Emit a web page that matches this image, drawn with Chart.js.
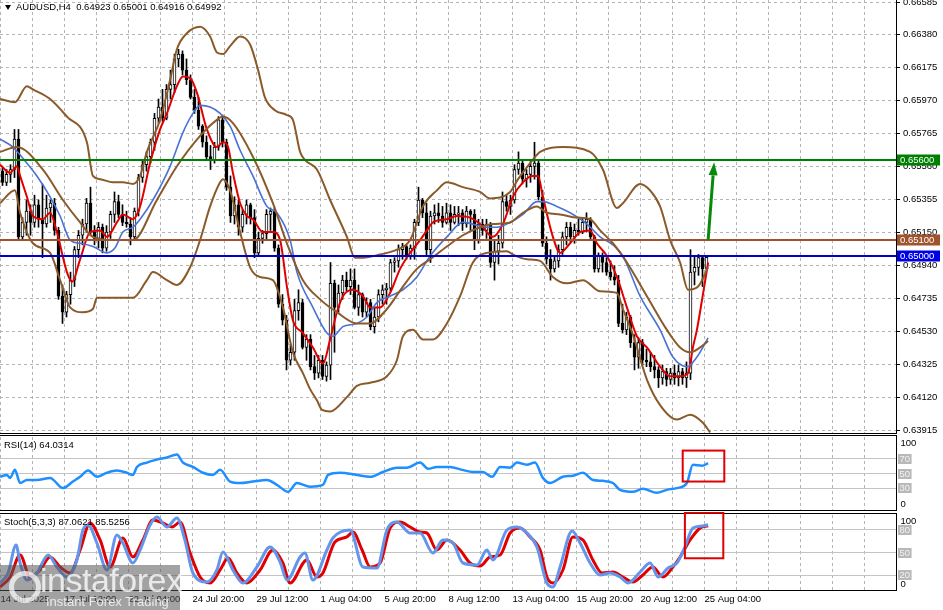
<!DOCTYPE html>
<html>
<head>
<meta charset="utf-8">
<script src="https://cdn.jsdelivr.net/npm/chart.js@4.4.0/dist/chart.umd.min.js"></script>
<style>
html, body { margin: 0; padding: 0; background: #fff; }
#wrap { position: relative; width: 943px; height: 610px; overflow: hidden; background: #fff;
  font-family: 'Liberation Sans', Arial, sans-serif; }
#wrap canvas { position: absolute; left: 0; }
.lbl { position: absolute; left: 4px; font-size: 9.5px; line-height: 11px; color: #000; white-space: pre; }
#tri { position: absolute; left: 5px; top: 5px; width: 0; height: 0;
  border-left: 3.5px solid transparent; border-right: 3.5px solid transparent; border-top: 5px solid #000; }
#wm { position: absolute; left: 0; top: 565px; width: 180px; height: 45px; background: rgba(85,85,85,0.55); }
#wm .ring { position: absolute; left: 9px; top: 6px; width: 22px; height: 22px; border: 5px solid rgba(255,255,255,0.7); border-radius: 50%; }
#wm .big { position: absolute; left: 40px; top: -4px; font-size: 34px; color: rgba(255,255,255,0.78); letter-spacing: -0.5px; }
#wm .small { position: absolute; left: 46px; top: 29px; font-size: 13px; color: rgba(255,255,255,0.78); }
</style>
</head>
<body>
<div id="wrap">
  <canvas id="main" width="943" height="436" style="top:0"></canvas>
  <canvas id="rsi" width="943" height="78" style="top:434px"></canvas>
  <canvas id="stoch" width="943" height="98" style="top:512px"></canvas>
  <div id="tri"></div>
  <div class="lbl" style="left:16px;top:1px">AUDUSD,H4  0.64923 0.65001 0.64916 0.64992</div>
  <div class="lbl" style="top:439px">RSI(14) 64.0314</div>
  <div class="lbl" style="top:516px">Stoch(5,3,3) 87.0621 85.5256</div>
  <div id="wm"><div class="ring"></div><div class="big">instaforex</div><div class="small">Instant Forex Trading</div></div>
</div>
<script>
// ---- data (bar index 0 = leftmost candle, H4 bars) ----
const priceTicks = [0.66585, 0.66380, 0.66175, 0.65970, 0.65765, 0.65560, 0.65355, 0.65150,
  0.64940, 0.64735, 0.64530, 0.64325, 0.64120, 0.63915];
const timeLabels = ['14 Jul 2025', '17 Jul 12:00', '22 Jul 04:00', '24 Jul 20:00', '29 Jul 12:00', '1 Aug 04:00',
  '5 Aug 20:00', '8 Aug 12:00', '13 Aug 04:00', '15 Aug 20:00', '20 Aug 12:00', '25 Aug 04:00'];

const opens = [
  0.6553,0.6546,0.6551,0.6554,0.6573,0.6512,0.6521,0.6528,0.6521,0.6532,
  0.6523,0.6520,0.6530,0.6533,0.6516,0.6475,0.6465,0.6476,0.6485,0.6504,
  0.6513,0.6520,0.6533,0.6515,0.6511,0.6518,0.6505,0.6515,0.6526,0.6534,
  0.6526,0.6521,0.6520,0.6512,0.6528,0.6549,0.6557,0.6562,0.6571,0.6586,
  0.6593,0.6586,0.6604,0.6607,0.6623,0.6626,0.6616,0.6610,0.6599,0.6591,
  0.6581,0.6571,0.6562,0.6560,0.6568,0.6585,0.6571,0.6543,0.6525,0.6532,
  0.6518,0.6526,0.6532,0.6524,0.6502,0.6511,0.6514,0.6526,0.6528,0.6505,
  0.6470,0.6460,0.6435,0.6440,0.6466,0.6471,0.6443,0.6448,0.6431,0.6427,
  0.6435,0.6425,0.6432,0.6483,0.6468,0.6477,0.6485,0.6481,0.6485,0.6468,
  0.6476,0.6465,0.6471,0.6456,0.6462,0.6476,0.6479,0.6480,0.6496,0.6497,
  0.6504,0.6506,0.6500,0.6505,0.6521,0.6535,0.6527,0.6504,0.6525,0.6527,
  0.6525,0.6521,0.6527,0.6521,0.6526,0.6527,0.6520,0.6528,0.6526,0.6510,
  0.6520,0.6516,0.6520,0.6496,0.6503,0.6508,0.6534,0.6531,0.6535,0.6554,
  0.6558,0.6548,0.6551,0.6556,0.6558,0.6537,0.6508,0.6498,0.6492,0.6497,
  0.6504,0.6512,0.6518,0.6512,0.6516,0.6515,0.6521,0.6523,0.6512,0.6492,
  0.6500,0.6496,0.6490,0.6487,0.6485,0.6458,0.6454,0.6462,0.6446,0.6437,
  0.6446,0.6435,0.6434,0.6431,0.6429,0.6424,0.6428,0.6423,0.6427,0.6424,
  0.6428,0.6424,0.6427,0.6490,0.6493,0.6499,0.64923];
const highs = [
  0.6555,0.6554,0.6557,0.6579,0.6579,0.6524,0.6535,0.6532,0.6538,0.6535,
  0.6545,0.6538,0.6535,0.6536,0.6518,0.6482,0.6478,0.6490,0.6506,0.6516,
  0.6523,0.6536,0.6543,0.6519,0.6521,0.6520,0.6519,0.6528,0.6540,0.6538,
  0.6532,0.6528,0.6524,0.6530,0.6551,0.6560,0.6565,0.6573,0.6589,0.6598,
  0.6604,0.6607,0.6616,0.6626,0.6629,0.6628,0.6623,0.6613,0.6604,0.6599,
  0.6582,0.6575,0.6569,0.6571,0.6587,0.6588,0.6573,0.6550,0.6537,0.6535,
  0.6529,0.6535,0.6533,0.6529,0.6515,0.6516,0.6529,0.6530,0.6530,0.6507,
  0.6476,0.6463,0.6445,0.6473,0.6479,0.6473,0.6451,0.6451,0.6438,0.6438,
  0.6438,0.6434,0.6496,0.6485,0.6482,0.6488,0.6490,0.6492,0.6492,0.6482,
  0.6477,0.6474,0.6473,0.6468,0.6479,0.6482,0.6483,0.6498,0.6499,0.6507,
  0.6508,0.6507,0.6507,0.6523,0.6543,0.6536,0.6533,0.6528,0.6532,0.6533,
  0.6531,0.6533,0.6532,0.6531,0.6531,0.6529,0.6531,0.6529,0.6529,0.6523,
  0.6523,0.6523,0.6521,0.6510,0.6513,0.6540,0.6538,0.6538,0.6557,0.6565,
  0.6560,0.6554,0.6559,0.6571,0.6560,0.6541,0.6512,0.6504,0.6500,0.6507,
  0.6515,0.6521,0.6521,0.6520,0.6523,0.6524,0.6527,0.6524,0.6513,0.6502,
  0.6502,0.6499,0.6497,0.6494,0.6488,0.6470,0.6465,0.6463,0.6451,0.6449,
  0.6448,0.6442,0.6440,0.6438,0.6431,0.6432,0.6430,0.6430,0.6432,0.6432,
  0.6430,0.6434,0.6504,0.6500,0.6501,0.6500,0.65001];
const lows = [
  0.6544,0.6544,0.6546,0.6549,0.6510,0.6510,0.6513,0.6513,0.6518,0.6518,
  0.6499,0.6518,0.6521,0.6513,0.6473,0.6458,0.6462,0.6470,0.6481,0.6499,
  0.6507,0.6515,0.6513,0.6507,0.6505,0.6502,0.6503,0.6511,0.6521,0.6524,
  0.6519,0.6518,0.6507,0.6510,0.6525,0.6546,0.6553,0.6558,0.6566,0.6583,
  0.6584,0.6585,0.6598,0.6602,0.6618,0.6613,0.6607,0.6598,0.6589,0.6579,
  0.6568,0.6560,0.6554,0.6558,0.6566,0.6568,0.6541,0.6521,0.6520,0.6513,
  0.6515,0.6520,0.6520,0.6499,0.6500,0.6508,0.6510,0.6516,0.6503,0.6468,
  0.6457,0.6429,0.6432,0.6435,0.6460,0.6442,0.6435,0.6429,0.6423,0.6424,
  0.6423,0.6422,0.6423,0.6440,0.6465,0.6473,0.6478,0.6476,0.6467,0.6463,
  0.6462,0.6462,0.6454,0.6452,0.6459,0.6470,0.6470,0.6478,0.6490,0.6493,
  0.6498,0.6498,0.6498,0.6498,0.6519,0.6524,0.6500,0.6496,0.6520,0.6521,
  0.6518,0.6520,0.6516,0.6520,0.6519,0.6516,0.6518,0.6516,0.6504,0.6508,
  0.6513,0.6511,0.6493,0.6485,0.6495,0.6505,0.6528,0.6526,0.6533,0.6551,
  0.6545,0.6543,0.6546,0.6548,0.6535,0.6506,0.6495,0.6485,0.6490,0.6493,
  0.6501,0.6507,0.6509,0.6508,0.6513,0.6514,0.6515,0.6510,0.6490,0.6490,
  0.6490,0.6488,0.6485,0.6482,0.6456,0.6452,0.6451,0.6443,0.6429,0.6430,
  0.6432,0.6431,0.6428,0.6424,0.6418,0.6420,0.6419,0.6420,0.6420,0.6419,
  0.6420,0.6418,0.6423,0.6482,0.6488,0.6481,0.64916];
const closes = [
  0.6546,0.6551,0.6554,0.6573,0.6512,0.6521,0.6528,0.6521,0.6532,0.6523,
  0.6520,0.6530,0.6533,0.6516,0.6475,0.6465,0.6476,0.6485,0.6504,0.6513,
  0.6520,0.6533,0.6515,0.6511,0.6518,0.6505,0.6515,0.6526,0.6534,0.6526,
  0.6521,0.6520,0.6512,0.6528,0.6549,0.6557,0.6562,0.6571,0.6586,0.6593,
  0.6586,0.6604,0.6607,0.6623,0.6626,0.6616,0.6610,0.6599,0.6591,0.6581,
  0.6571,0.6562,0.6560,0.6568,0.6585,0.6571,0.6543,0.6525,0.6532,0.6518,
  0.6526,0.6532,0.6524,0.6502,0.6511,0.6514,0.6526,0.6528,0.6505,0.6470,
  0.6460,0.6435,0.6440,0.6466,0.6471,0.6443,0.6448,0.6431,0.6427,0.6435,
  0.6425,0.6432,0.6483,0.6468,0.6477,0.6485,0.6481,0.6485,0.6468,0.6476,
  0.6465,0.6471,0.6456,0.6462,0.6476,0.6479,0.6480,0.6496,0.6497,0.6504,
  0.6506,0.6500,0.6505,0.6521,0.6535,0.6527,0.6504,0.6525,0.6527,0.6525,
  0.6521,0.6527,0.6521,0.6526,0.6527,0.6520,0.6528,0.6526,0.6510,0.6520,
  0.6516,0.6520,0.6496,0.6503,0.6508,0.6534,0.6531,0.6535,0.6554,0.6558,
  0.6548,0.6551,0.6556,0.6558,0.6537,0.6508,0.6498,0.6492,0.6497,0.6504,
  0.6512,0.6518,0.6512,0.6516,0.6515,0.6521,0.6523,0.6512,0.6492,0.6500,
  0.6496,0.6490,0.6487,0.6485,0.6458,0.6454,0.6462,0.6446,0.6437,0.6446,
  0.6435,0.6434,0.6431,0.6429,0.6424,0.6428,0.6423,0.6427,0.6424,0.6428,
  0.6424,0.6427,0.6490,0.6493,0.6499,0.6492,0.64992];

// Bollinger bands and moving averages, [bar, price] vertices
const bbUpper = [[-0.6,0.6598],[3.1,0.6596],[6.1,0.6606],[7.6,0.6604],[11.9,0.6598],[16.1,0.6587],[21.1,0.6571],
  [22.6,0.6550],[24.4,0.6548],[27.6,0.6546],[30.1,0.6546],[32.6,0.6545],[34.4,0.6550],[36.1,0.6565],[39.4,0.6585],
  [41.9,0.6610],[43.6,0.6629],[46.1,0.6639],[49.4,0.6643],[51.9,0.6637],[53.6,0.6627],[55.1,0.6626],[56.9,0.6631],
  [59.4,0.6637],[61.9,0.6632],[63.9,0.6616],[65.6,0.6599],[68.1,0.6591],[71.1,0.6588],[72.6,0.6585],[74.4,0.6565],
  [75.6,0.6560],[78.6,0.6554],[81.9,0.6535],[86.1,0.6512],[88.1,0.6499],[90.1,0.6499],[94.4,0.6501],[98.6,0.6504],
  [101.9,0.6510],[105.1,0.6531],[108.6,0.6541],[111.1,0.6546],[115.1,0.6543],[119.4,0.6540],[121.9,0.6536],
  [126.9,0.6540],[128.9,0.6548],[131.9,0.6558],[134.4,0.6565],[140.1,0.6568],[146.9,0.6565],[150.1,0.6554],
  [153.6,0.6530],[155.1,0.6533],[159.4,0.6545],[161.9,0.6541],[164.4,0.6531],[166.9,0.6510],[169.4,0.6496],
  [171.4,0.6479],[173.9,0.6481],[176.4,0.6493]];
const bbMiddle = [[-0.6,0.6565],[3.6,0.6568],[10.1,0.6554],[15.1,0.6535],[19.4,0.6521],[22.6,0.6512],[27.6,0.6510],
  [32.6,0.6510],[38.6,0.6535],[43.6,0.6556],[49.4,0.6575],[53.6,0.6585],[55.1,0.6587],[57.6,0.6583],[62.6,0.6562],
  [67.6,0.6533],[71.1,0.6508],[75.1,0.6485],[79.4,0.6473],[83.6,0.6465],[88.6,0.6458],[91.9,0.6458],[96.1,0.6467],
  [100.1,0.6481],[103.6,0.6492],[106.9,0.6498],[111.1,0.6506],[115.1,0.6513],[119.4,0.6518],[122.6,0.6520],
  [126.9,0.6521],[130.1,0.6527],[133.6,0.6531],[136.1,0.6527],[139.4,0.6526],[143.6,0.6524],[146.9,0.6523],
  [149.4,0.6516],[152.6,0.6508],[156.1,0.6496],[161.1,0.6475],[166.1,0.6454],[169.4,0.6443],[171.9,0.6440],
  [174.4,0.6443],[176.4,0.6447]];
const bbLower = [[-0.6,0.6533],[3.1,0.6541],[4.4,0.6527],[7.6,0.6508],[11.9,0.6502],[14.4,0.6485],[16.9,0.6468],
  [20.1,0.6465],[22.6,0.6467],[23.6,0.6474],[32.6,0.6474],[36.1,0.6485],[37.6,0.6490],[41.1,0.6485],[43.6,0.6482],
  [46.9,0.6493],[49.4,0.6510],[51.9,0.6531],[54.4,0.6546],[55.1,0.6548],[56.9,0.6541],[59.4,0.6515],[61.9,0.6493],
  [64.4,0.6487],[67.6,0.6485],[70.1,0.6468],[72.6,0.6440],[75.1,0.6427],[76.9,0.6417],[78.6,0.6410],[79.9,0.6404],
  [81.9,0.6403],[86.1,0.6412],[88.6,0.6419],[91.9,0.6421],[96.1,0.6425],[98.6,0.6435],[100.1,0.6450],[102.6,0.6454],
  [105.1,0.6448],[107.6,0.6448],[111.1,0.6458],[114.4,0.6475],[117.6,0.6496],[121.1,0.6502],[126.1,0.6503],
  [127.6,0.6501],[131.1,0.6498],[134.4,0.6497],[137.6,0.6487],[141.1,0.6483],[145.1,0.6485],[149.4,0.6478],
  [153.6,0.6477],[155.1,0.6467],[157.6,0.6451],[161.1,0.6423],[164.4,0.6407],[168.6,0.6398],[171.9,0.6401],
  [175.1,0.6396],[176.9,0.6390]];
const maFast = [[-0.6,0.6557],[1.9,0.6552],[3.6,0.6556],[4.4,0.6550],[6.1,0.6537],[7.6,0.6525],[10.1,0.6523],
  [11.9,0.6527],[13.6,0.6515],[16.1,0.6490],[17.4,0.6484],[19.4,0.6498],[21.9,0.6515],[24.4,0.6516],[26.1,0.6512],
  [28.6,0.6521],[30.1,0.6526],[32.6,0.6523],[34.4,0.6531],[36.9,0.6558],[39.4,0.6579],[41.1,0.6589],[43.6,0.6606],
  [45.1,0.6612],[46.9,0.6611],[48.6,0.6602],[51.1,0.6579],[53.6,0.6568],[55.1,0.6571],[56.4,0.6568],[57.6,0.6552],
  [59.4,0.6533],[61.1,0.6525],[62.6,0.6523],[65.1,0.6515],[67.6,0.6515],[69.4,0.6510],[71.1,0.6481],[72.6,0.6460],
  [75.1,0.6452],[77.6,0.6443],[80.1,0.6433],[81.9,0.6448],[83.6,0.6465],[85.1,0.6475],[87.6,0.6479],[90.1,0.6475],
  [91.9,0.6468],[94.4,0.6468],[96.9,0.6477],[99.4,0.6492],[101.9,0.6502],[104.4,0.6510],[106.1,0.6516],
  [107.6,0.6521],[111.1,0.6523],[113.6,0.6525],[116.9,0.6524],[119.4,0.6520],[122.6,0.6512],[125.1,0.6520],
  [127.6,0.6537],[130.1,0.6546],[132.4,0.6550],[133.9,0.6550],[135.1,0.6537],[137.6,0.6512],[139.4,0.6502],
  [141.9,0.6508],[144.4,0.6515],[146.9,0.6516],[148.6,0.6508],[151.1,0.6500],[153.6,0.6487],[156.1,0.6468],
  [158.6,0.6450],[161.1,0.6443],[164.4,0.6431],[166.9,0.6425],[169.4,0.6425],[171.4,0.6427],[172.6,0.6443],
  [173.6,0.6454],[175.1,0.6476],[176.4,0.6496]];
const maSlow = [[-0.6,0.6573],[2.6,0.6568],[5.1,0.6561],[8.6,0.6550],[11.9,0.6537],[14.4,0.6525],[16.9,0.6510],
  [19.4,0.6508],[22.6,0.6506],[26.1,0.6502],[28.1,0.6505],[30.1,0.6515],[32.6,0.6518],[34.4,0.6523],[37.6,0.6535],
  [41.9,0.6556],[45.1,0.6577],[47.6,0.6589],[49.4,0.6594],[51.9,0.6593],[54.4,0.6589],[56.9,0.6581],[59.4,0.6566],
  [62.6,0.6550],[66.1,0.6531],[68.6,0.6527],[71.9,0.6510],[73.6,0.6490],[77.6,0.6468],[81.1,0.6452],[82.6,0.6450],
  [85.1,0.6456],[88.6,0.6458],[91.1,0.6462],[93.6,0.6471],[96.9,0.6475],[100.1,0.6479],[103.6,0.6487],
  [106.9,0.6500],[111.1,0.6512],[115.1,0.6521],[121.1,0.6518],[123.6,0.6518],[126.9,0.6521],[130.1,0.6526],
  [133.6,0.6534],[135.1,0.6534],[138.6,0.6531],[141.9,0.6527],[146.1,0.6520],[149.4,0.6512],[152.6,0.6507],
  [155.1,0.6500],[159.4,0.6475],[164.4,0.6454],[167.6,0.6437],[171.1,0.6431],[173.6,0.6437],[176.4,0.6449]];

const levelPrices = [0.65600, 0.65100, 0.65000];
const arrowPath = [[176.4, 0.65100], [177.9, 0.65585]];

const rsi14 = [[-0.6,45.5],[1.1,48],[1.9,44],[3.1,55],[4.4,37],[6.1,41],[8.6,41],[11.9,44],[15.1,30],[17.6,39],
  [19.4,45.5],[21.4,54],[23.6,45.5],[26.1,51],[28.6,54],[31.1,51],[32.6,48],[33.6,59],[36.1,65],[38.6,69],
  [41.1,72],[43.6,76],[45.1,65],[47.6,59],[50.1,51],[52.6,48],[54.4,55],[56.9,39],[59.4,37],[62.6,39],[66.1,41],
  [68.6,34.5],[71.4,25],[73.6,37],[76.9,32],[80.1,34.5],[81.4,48],[84.4,51],[88.6,48],[91.9,45.5],[95.1,52],
  [98.6,58],[101.1,58],[104.4,65],[106.4,56.5],[108.6,59],[111.9,59],[114.9,55],[117.6,52],[120.1,52],[122.4,45.5],
  [124.4,59],[126.9,58],[128.6,65],[131.1,62],[133.1,65],[135.1,44],[136.9,37],[140.1,45.5],[142.6,47],[145.1,51],
  [147.6,41],[150.1,40],[152.6,37],[154.4,27.6],[157.6,25],[160.1,29],[163.6,23.5],[166.1,27.6],[168.6,30],
  [171.1,37],[172.6,62],[174.9,60.7],[176.4,64.03]];
const stochK = [[-0.6,9.3],[1.4,22.7],[3.4,60],[4.4,36],[6.1,13.3],[8.6,22.7],[11.4,46.7],[13.6,30.7],[16.1,17.3],
  [18.6,40],[20.1,80],[21.4,86.7],[23.6,62.7],[26.1,26.7],[28.6,73.3],[30.1,62.7],[32.6,36],[34.4,53.3],[36.9,86.7],
  [38.6,97.3],[41.1,84],[43.6,96],[45.6,66.7],[47.6,22.7],[51.1,10.7],[53.6,26.7],[55.1,50.7],[57.6,26.7],[60.1,9.3],
  [63.6,30.7],[66.9,57.3],[69.4,37.3],[71.1,13.3],[74.4,44],[75.6,49.3],[77.6,13.3],[81.1,53.3],[82.6,69.3],[86.9,80],
  [90.1,30.7],[93.6,29.3],[96.1,80],[98.6,90.7],[101.9,76],[104.4,76],[107.6,49.3],[110.1,66.7],[112.6,62.7],
  [115.1,36],[118.6,33.3],[121.1,53.3],[122.6,40],[126.1,80],[128.6,84],[131.1,76],[133.6,57.3],[136.1,9.3],
  [137.6,4],[139.4,30.7],[142.4,78.7],[144.4,62.7],[146.9,36],[149.4,20],[151.9,22.7],[154.4,17.3],[156.4,9.3],
  [159.4,24],[161.9,36],[163.9,17.3],[166.4,29.3],[168.6,36],[170.6,57.3],[172.6,82.7],[174.9,85.3],[176.4,87.06]];
const stochD = [[-0.6,4],[1.9,17.3],[4.4,46.7],[6.9,17.3],[9.4,26.7],[11.9,44],[14.4,30.7],[16.9,22.7],[19.4,53.3],
  [21.9,89.3],[24.4,66.7],[26.9,30.7],[30.1,69.3],[32.6,44],[35.1,66.7],[37.6,93.3],[40.1,89.3],[42.4,84],[44.4,90.7],
  [46.9,49.3],[49.4,17.3],[51.9,9.3],[54.4,26.7],[56.4,42.7],[58.6,22.7],[61.1,9.3],[64.4,26.7],[67.6,53.3],[70.1,36],
  [71.9,9.3],[76.1,40],[78.6,17.3],[80.1,22.7],[83.1,64],[86.1,70.7],[87.6,77.3],[89.9,53.3],[91.9,30.7],[94.4,36],
  [96.9,82.7],[99.4,90.7],[101.9,84],[104.4,77.3],[106.1,76],[108.6,53.3],[111.1,66.7],[114.4,53.3],[116.9,36],
  [119.4,32],[121.9,44],[124.4,46.7],[126.9,76],[129.4,82.7],[131.9,70.7],[134.4,53.3],[136.1,17.3],[137.6,9.3],
  [140.1,26.7],[142.6,70.7],[145.1,66.7],[147.6,40],[149.9,22.7],[152.6,24],[155.1,17.3],[157.6,10.7],[160.1,20],
  [162.6,30.7],[165.1,17.3],[167.6,30.7],[169.4,44],[171.9,66.7],[174.4,82.7],[176.4,85.53]];

const rsiLevels = [70, 50, 30];
const stochLevels = [80, 50, 20];
const rsiBox = [[170.05, 81.4], [180.45, 39]];
const stochBox = [[170.6, 103], [180.2, 42.3]];

// ---- drawing ----
Chart.defaults.font.family = "'Liberation Sans', Arial, sans-serif";
Chart.defaults.animation = false;
const FONT = "9.5px 'Liberation Sans', Arial, sans-serif";
const GRID = '#b4b4b4';
const BROWN = '#8b5a2b';
const pts = arr => arr.map(([x, y]) => ({ x, y }));

const gridBars = [];
for (let k = 0; k <= 27; k++) gridBars.push(-0.5 + 8 * k);

function xAxis(extra) {
  return Object.assign({
    type: 'linear', min: -0.625, max: 223.375, offset: false,
    afterBuildTicks: s => { s.ticks = gridBars.map(v => ({ value: v })); },
    grid: { color: GRID, drawTicks: false, offset: false },
    border: { display: false, dash: [3, 3] },
    ticks: { display: false },
    afterFit: s => { s.height = 0; s.paddingLeft = 0; s.paddingRight = 0; }
  }, extra || {});
}

function drawFrame(ctx, a) {
  ctx.save();
  ctx.strokeStyle = '#000';
  ctx.lineWidth = 1;
  ctx.strokeRect(-0.5, a.top - 1.5, a.right + 1, a.bottom - a.top + 2);
  ctx.restore();
}

function line(data, color, width) {
  return { type: 'line', data: pts(data), borderColor: color, borderWidth: width, pointRadius: 0,
    cubicInterpolationMode: 'monotone', order: 0 };
}

const levelStyle = [
  { color: '#008000', tag: '#008000' },
  { color: '#a0522d', tag: '#a0522d' },
  { color: '#0000c8', tag: '#0000e6' }
];

const mainExtras = {
  id: 'mainExtras',
  afterDatasetsDraw(chart) {
    const { ctx, chartArea: a, scales: { x, y } } = chart;
    ctx.save();
    levelPrices.forEach((p, k) => {
      const py = Math.round(y.getPixelForValue(p));
      ctx.strokeStyle = levelStyle[k].color;
      ctx.lineWidth = 2;
      ctx.beginPath(); ctx.moveTo(a.left, py); ctx.lineTo(a.right, py); ctx.stroke();
    });
    // green arrow
    const x0 = x.getPixelForValue(arrowPath[0][0]), y0 = y.getPixelForValue(arrowPath[0][1]);
    const x1 = x.getPixelForValue(arrowPath[1][0]), y1 = y.getPixelForValue(arrowPath[1][1]);
    const ang = Math.atan2(y1 - y0, x1 - x0);
    const hl = 13, hw = 4.5;
    const bx = x1 - hl * Math.cos(ang), by = y1 - hl * Math.sin(ang);
    ctx.strokeStyle = '#0a8a0a'; ctx.fillStyle = '#0a8a0a'; ctx.lineWidth = 3;
    ctx.beginPath(); ctx.moveTo(x0, y0); ctx.lineTo(bx, by); ctx.stroke();
    ctx.beginPath();
    ctx.moveTo(x1, y1);
    ctx.lineTo(bx + hw * Math.sin(ang), by - hw * Math.cos(ang));
    ctx.lineTo(bx - hw * Math.sin(ang), by + hw * Math.cos(ang));
    ctx.closePath(); ctx.fill();
    ctx.restore();
  },
  afterDraw(chart) {
    const { ctx, chartArea: a, scales: { y } } = chart;
    drawFrame(ctx, a);
    ctx.save();
    ctx.font = FONT;
    ctx.textBaseline = 'middle';
    levelPrices.forEach((p, k) => {
      const py = Math.round(y.getPixelForValue(p));
      ctx.fillStyle = levelStyle[k].tag;
      ctx.fillRect(a.right + 1, py - 5.5, 43, 11);
      ctx.fillStyle = '#fff';
      ctx.fillText(p.toFixed(5), a.right + 4, py);
    });
    ctx.restore();
  }
};

function subExtras(levels, box) {
  return {
    id: 'subExtras',
    afterDraw(chart) {
      const { ctx, chartArea: a, scales: { x, y } } = chart;
      drawFrame(ctx, a);
      ctx.save();
      ctx.font = FONT;
      ctx.textBaseline = 'middle';
      levels.forEach(v => {
        const py = Math.round(y.getPixelForValue(v));
        const t = String(v);
        const w = ctx.measureText(t).width;
        ctx.fillStyle = '#b8b8b8';
        ctx.fillRect(a.right + 2, py - 5, w + 3, 10);
        ctx.fillStyle = '#f2f2f2';
        ctx.fillText(t, a.right + 3.5, py);
      });
      ctx.fillStyle = '#000';
      ctx.fillText('100', a.right + 4.5, a.top + 6);
      ctx.fillText('0', a.right + 4.5, a.bottom - 6);
      // red highlight box
      const bx0 = x.getPixelForValue(box[0][0]), by0 = y.getPixelForValue(box[0][1]);
      const bx1 = x.getPixelForValue(box[1][0]), by1 = y.getPixelForValue(box[1][1]);
      ctx.strokeStyle = '#e00000';
      ctx.lineWidth = 2;
      ctx.strokeRect(bx0, by0, bx1 - bx0, by1 - by0);
      ctx.restore();
    }
  };
}

new Chart(document.getElementById('main'), {
  type: 'bar',
  data: {
    datasets: [
      line(bbUpper, BROWN, 2),
      line(bbMiddle, BROWN, 2),
      line(bbLower, BROWN, 2),
      line(maSlow, '#4a72d4', 1.6),
      line(maFast, '#e00000', 2),
      {
        label: 'wick', order: 2, grouped: false, barThickness: 1,
        data: opens.map((o, i) => ({ x: i, y: [lows[i], highs[i]] })),
        backgroundColor: '#000'
      },
      {
        label: 'body', order: 1, grouped: false, barThickness: 3, minBarLength: 1,
        data: opens.map((o, i) => ({ x: i, y: [o, closes[i]] })),
        backgroundColor: c => closes[c.dataIndex] >= opens[c.dataIndex] ? '#fff' : '#000',
        borderColor: '#000', borderWidth: 1, borderSkipped: false
      }
    ]
  },
  options: {
    responsive: false,
    layout: { padding: { top: 0, left: 0, right: 0, bottom: 3 } },
    plugins: { legend: { display: false }, tooltip: { enabled: false } },
    scales: {
      x: xAxis(),
      y: {
        position: 'right', min: 0.638964, max: 0.665975,
        afterBuildTicks: s => { s.ticks = priceTicks.map(v => ({ value: v })); },
        ticks: { callback: v => v.toFixed(5), color: '#000', font: { size: 9.5 }, padding: 3 },
        grid: { color: GRID, tickColor: '#000', tickLength: 4 },
        border: { display: false, dash: [3, 3] },
        afterFit: s => { s.width = 47; s.paddingTop = 0; s.paddingBottom = 0; }
      }
    }
  },
  plugins: [mainExtras]
});

function subY(levels) {
  return {
    position: 'right', min: 0, max: 100,
    afterBuildTicks: s => { s.ticks = levels.map(v => ({ value: v })); },
    ticks: { display: false },
    grid: { color: '#c4c4c4', drawTicks: false },
    border: { display: false },
    afterFit: s => { s.width = 47; s.paddingTop = 0; s.paddingBottom = 0; }
  };
}

new Chart(document.getElementById('rsi'), {
  type: 'line',
  data: { datasets: [line(rsi14, '#1e8fff', 2.5)] },
  options: {
    responsive: false,
    layout: { padding: { top: 3, left: 0, right: 0, bottom: 2 } },
    plugins: { legend: { display: false }, tooltip: { enabled: false } },
    scales: { x: xAxis(), y: subY(rsiLevels) }
  },
  plugins: [subExtras(rsiLevels, rsiBox)]
});

new Chart(document.getElementById('stoch'), {
  type: 'line',
  data: { datasets: [line(stochK, '#6495ed', 3), line(stochD, '#e00000', 3)] },
  options: {
    responsive: false,
    layout: { padding: { top: 3, left: 0, right: 0, bottom: 0 } },
    plugins: { legend: { display: false }, tooltip: { enabled: false } },
    scales: {
      x: xAxis({
        ticks: {
          display: true, autoSkip: false, maxRotation: 0, align: 'start', padding: 4,
          color: '#000', font: { size: 9.5 },
          callback: (v, i) => (i % 2 === 0 ? (timeLabels[i / 2] || '') : '')
        },
        afterFit: s => { s.height = 20; s.paddingLeft = 0; s.paddingRight = 0; }
      }),
      y: subY(stochLevels)
    }
  },
  plugins: [subExtras(stochLevels, stochBox)]
});
</script>
</body>
</html>
